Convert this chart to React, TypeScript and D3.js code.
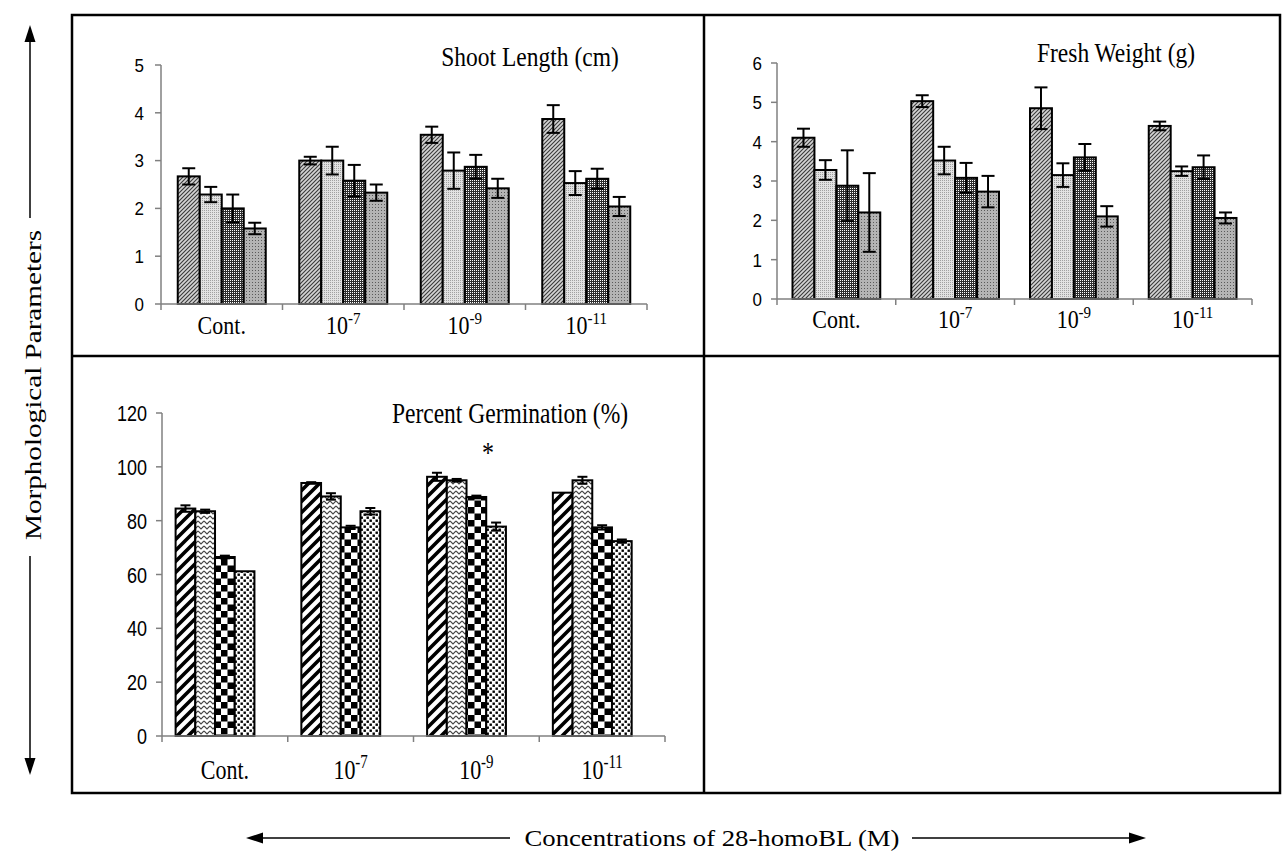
import React from 'react';
import * as d3 from 'd3';

// category labels (base + superscript exponent)
const catBase = ['Cont.', '10', '10', '10'];
const catExp = ['', '-7', '-9', '-11'];

// Shoot length (cm), 4 series per category
const shootLength = [
  [2.67, 2.29, 2.0, 1.58],
  [3.0, 3.0, 2.58, 2.33],
  [3.54, 2.79, 2.87, 2.42],
  [3.87, 2.53, 2.62, 2.04],
];
const shootErr = [
  [0.17, 0.16, 0.29, 0.12],
  [0.08, 0.29, 0.33, 0.17],
  [0.17, 0.38, 0.25, 0.2],
  [0.29, 0.25, 0.21, 0.2],
];

// Fresh weight (g)
const freshWeight = [
  [4.1, 3.28, 2.88, 2.2],
  [5.03, 3.52, 3.08, 2.73],
  [4.85, 3.15, 3.6, 2.1],
  [4.4, 3.25, 3.35, 2.06],
];
const freshErr = [
  [0.23, 0.25, 0.9, 1.0],
  [0.15, 0.35, 0.38, 0.4],
  [0.53, 0.3, 0.34, 0.26],
  [0.11, 0.12, 0.3, 0.14],
];

// Percent germination (%)
const germination = [
  [84.5, 83.5, 66.5, 61.2],
  [94, 89, 77.5, 83.5],
  [96.3, 95, 88.8, 77.8],
  [90.4, 95, 77.5, 72.4],
];
const germErr = [
  [1.2, 0.6, 0.5, 0],
  [0.3, 1.2, 0.6, 1.2],
  [1.5, 0.5, 0.5, 1.5],
  [0, 1.3, 0.8, 0.6],
];

const shootTicks = [0, 1, 2, 3, 4, 5];
const freshTicks = [0, 1, 2, 3, 4, 5, 6];
const germTicks = [0, 20, 40, 60, 80, 100, 120];

const SERIF = '"Liberation Serif", "Times New Roman", serif';
const SANS = '"Liberation Sans", Arial, sans-serif';
const AXIS = '#808080';

const Patterns = () => (
  <defs>
    {/* fine excel-like patterns for top panels */}
    <pattern id="f1" width="4" height="4" patternUnits="userSpaceOnUse">
      <rect width="4" height="4" fill="#d4d4d4" />
      <path d="M-1,1 L1,-1 M0,4 L4,0 M3,5 L5,3" stroke="#3a3a3a" strokeWidth="1.1" />
    </pattern>
    <pattern id="f2" width="2" height="2" patternUnits="userSpaceOnUse">
      <rect width="2" height="2" fill="#e2e2e2" />
      <rect width="1" height="1" fill="#a0a0a0" />
    </pattern>
    <pattern id="f3" width="2" height="2" patternUnits="userSpaceOnUse">
      <rect width="2" height="2" fill="#2e2e2e" />
      <rect width="1" height="1" fill="#ffffff" />
    </pattern>
    <pattern id="f4" width="3" height="3" patternUnits="userSpaceOnUse">
      <rect width="3" height="3" fill="#b4b4b4" />
      <rect width="1" height="1" fill="#5a5a5a" />
    </pattern>
    {/* bold patterns for germination panel */}
    <pattern id="g1" width="11" height="11" patternUnits="userSpaceOnUse">
      <rect width="11" height="11" fill="#fff" />
      <path d="M-2,2 L2,-2 M0,11 L11,0 M9,13 L13,9" stroke="#000" strokeWidth="3.6" />
    </pattern>
    <pattern id="g2" width="6" height="5" patternUnits="userSpaceOnUse">
      <rect width="6" height="5" fill="#fff" />
      <path d="M0,1 L3,4 L6,1" fill="none" stroke="#444" strokeWidth="1.1" />
    </pattern>
    <pattern id="g3" width="13" height="13" patternUnits="userSpaceOnUse">
      <rect width="13" height="13" fill="#fff" />
      <rect width="6.5" height="6.5" fill="#000" />
      <rect x="6.5" y="6.5" width="6.5" height="6.5" fill="#000" />
    </pattern>
    <pattern id="g4" width="6" height="6" patternUnits="userSpaceOnUse">
      <rect width="6" height="6" fill="#fff" />
      <rect x="0.5" y="0.5" width="2.4" height="2.4" fill="#000" />
      <rect x="3.5" y="3.5" width="2.4" height="2.4" fill="#000" />
    </pattern>
  </defs>
);

type PanelProps = {
  values: number[][];
  errs: number[][];
  ticks: number[];
  x0: number; x1: number; y0: number; yTop: number;
  slots: number; groupPad: number;
  fills: string[];
  title: string; titleX: number; titleY: number;
  labelY: number; sy: number; tickFont: number; tickRight: number;
  cap: number;
};

const Panel = (p: PanelProps) => {
  const x = d3.scaleBand<number>().domain(d3.range(catBase.length)).range([p.x0, p.x1]);
  const inner = d3.scaleBand<number>().domain(d3.range(p.slots)).range([p.groupPad, x.bandwidth() - p.groupPad]);
  const y = d3.scaleLinear().domain([0, p.ticks[p.ticks.length - 1]]).range([p.y0, p.yTop]);
  const bounds = d3.range(catBase.length + 1).map(i => p.x0 + i * x.bandwidth());
  return (
    <g>
      {/* bars */}
      {p.values.map((row, ci) => row.map((v, si) => {
        const bx = (x(ci) as number) + (inner(si) as number);
        return (
          <rect key={`b${ci}-${si}`} x={bx} y={y(v)} width={inner.bandwidth()} height={p.y0 - y(v)}
            fill={`url(#${p.fills[si]})`} stroke="#000" strokeWidth={2} />
        );
      }))}
      {/* error bars */}
      {p.values.map((row, ci) => row.map((v, si) => {
        const e = p.errs[ci][si];
        if (!e) return null;
        const cx = (x(ci) as number) + (inner(si) as number) + inner.bandwidth() / 2;
        const t = y(v + e), b = y(v - e);
        return (
          <g key={`e${ci}-${si}`} stroke="#000" strokeWidth={2}>
            <line x1={cx} x2={cx} y1={t} y2={b} />
            <line x1={cx - p.cap} x2={cx + p.cap} y1={t} y2={t} />
            <line x1={cx - p.cap} x2={cx + p.cap} y1={b} y2={b} />
          </g>
        );
      }))}
      {/* y axis */}
      <line x1={p.x0} x2={p.x0} y1={p.y0} y2={p.yTop} stroke={AXIS} strokeWidth={1.5} />
      {p.ticks.map(t => (
        <g key={`t${t}`}>
          <line x1={p.x0 - 6} x2={p.x0} y1={y(t)} y2={y(t)} stroke={AXIS} strokeWidth={1.5} />
          <text transform={`translate(${p.tickRight},${y(t)}) scale(1,${p.sy})`} dy="0.36em"
            textAnchor="end" fontFamily={SANS} fontSize={p.tickFont} fill="#000">{t}</text>
        </g>
      ))}
      {/* x axis */}
      <line x1={p.x0} x2={p.x1} y1={p.y0} y2={p.y0} stroke={AXIS} strokeWidth={1.5} />
      {bounds.map((bx, i) => (
        <line key={`xt${i}`} x1={bx} x2={bx} y1={p.y0} y2={p.y0 + 6} stroke={AXIS} strokeWidth={1.5} />
      ))}
      {catBase.map((c, i) => (
        <text key={`c${i}`} transform={`translate(${(x(i) as number) + x.bandwidth() / 2},${p.labelY}) scale(1,${p.sy})`}
          textAnchor="middle" fontFamily={SERIF} fontSize={22} fill="#000">
          {c}
          {catExp[i] && <tspan dy={-9} fontSize={15}>{catExp[i]}</tspan>}
        </text>
      ))}
      <text transform={`translate(${p.titleX},${p.titleY}) scale(1,${p.sy})`} textAnchor="middle"
        fontFamily={SERIF} fontSize={23.5} fill="#000">{p.title}</text>
    </g>
  );
};

const App = () => {
  return (
    <svg width={1282} height={851} style={{ position: 'absolute', left: 0, top: 0, background: '#fff' }}>
      <Patterns />
      <rect x={0} y={0} width={1282} height={851} fill="#fff" />
      {/* frame */}
      <g stroke="#000" strokeWidth={2.5} fill="none">
        <rect x={72} y={15} width={1208} height={778} />
        <line x1={704} x2={704} y1={15} y2={793} />
        <line x1={72} x2={1280} y1={356} y2={356} />
      </g>
      <Panel values={shootLength} errs={shootErr} ticks={shootTicks}
        x0={161} x1={647} y0={304} yTop={65} slots={4} groupPad={16.75}
        fills={['f1', 'f2', 'f3', 'f4']} title="Shoot Length (cm)" titleX={530} titleY={66}
        labelY={334} sy={1.12} tickFont={17} tickRight={144} cap={6.5} />
      <Panel values={freshWeight} errs={freshErr} ticks={freshTicks}
        x0={777} x1={1252} y0={299} yTop={63} slots={4} groupPad={15.5}
        fills={['f1', 'f2', 'f3', 'f4']} title="Fresh Weight (g)" titleX={1116} titleY={62}
        labelY={328} sy={1.12} tickFont={17} tickRight={762} cap={6.5} />
      <Panel values={germination} errs={germErr} ticks={germTicks}
        x0={162} x1={665} y0={736} yTop={413} slots={5} groupPad={13.6}
        fills={['g1', 'g2', 'g3', 'g4']} title="Percent Germination (%)" titleX={510} titleY={423}
        labelY={779} sy={1.25} tickFont={18} tickRight={147} cap={5} />
      <text transform="translate(488,462) scale(1,1.2)" textAnchor="middle" fontFamily={SERIF} fontSize={24}>*</text>

      {/* vertical axis caption with arrows */}
      <g stroke="#000" strokeWidth={1.5}>
        <line x1={30} x2={30} y1={40} y2={218} />
        <line x1={30} x2={30} y1={556} y2={760} />
      </g>
      <path d="M30,25 L24.5,42 L35.5,42 Z" fill="#000" />
      <path d="M30,775 L24.5,758 L35.5,758 Z" fill="#000" />
      <text transform="translate(41,385) rotate(-90)" textAnchor="middle" fontFamily={SERIF} fontSize={24}
        textLength={310} lengthAdjust="spacingAndGlyphs">Morphological Parameters</text>

      {/* horizontal axis caption with arrows */}
      <g stroke="#000" strokeWidth={1.5}>
        <line x1={262} x2={510} y1={838} y2={838} />
        <line x1={912} x2={1130} y1={838} y2={838} />
      </g>
      <path d="M246,838 L263,832.5 L263,843.5 Z" fill="#000" />
      <path d="M1146,838 L1129,832.5 L1129,843.5 Z" fill="#000" />
      <text x={712} y={846} textAnchor="middle" fontFamily={SERIF} fontSize={24}
        textLength={375} lengthAdjust="spacingAndGlyphs">Concentrations of 28-homoBL (M)</text>
    </svg>
  );
};

export default App;
